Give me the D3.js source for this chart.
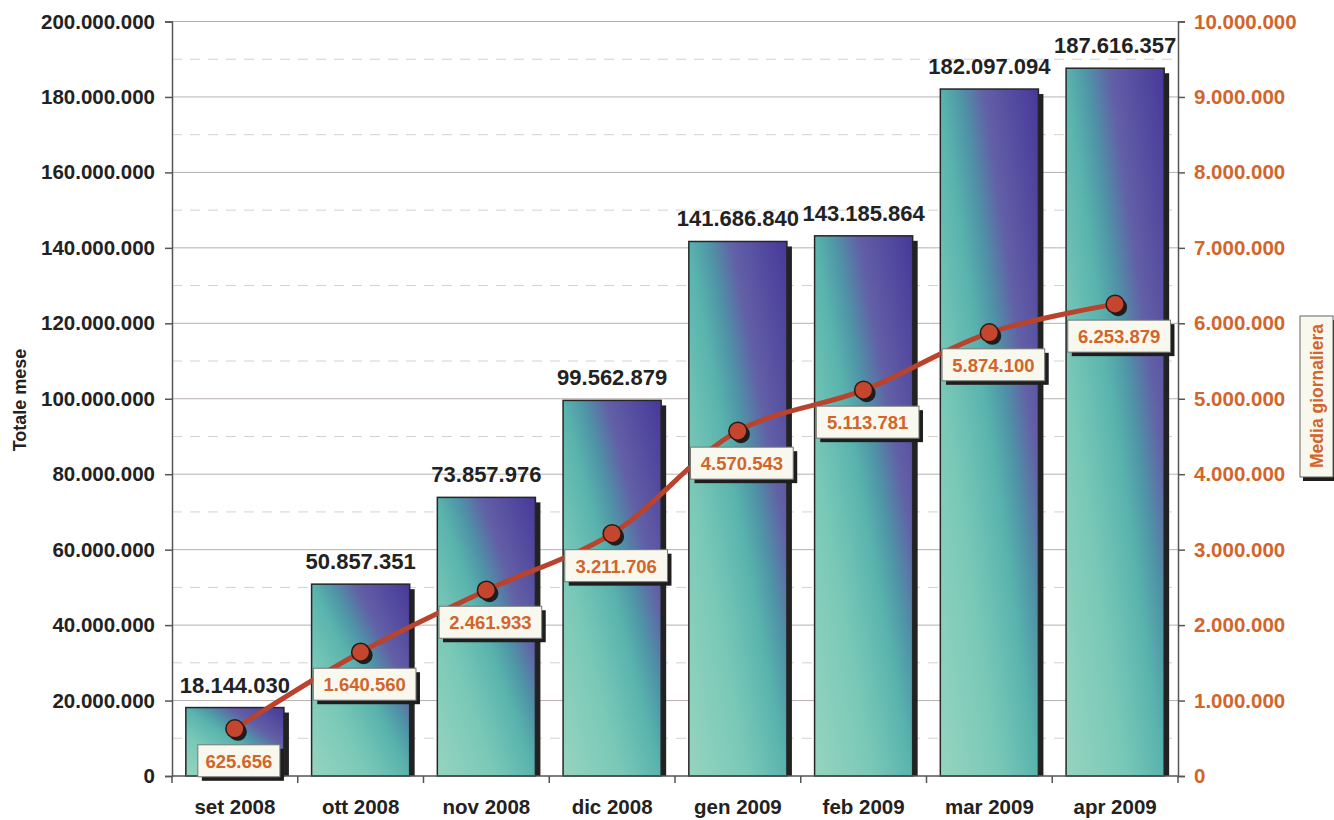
<!DOCTYPE html>
<html>
<head>
<meta charset="utf-8">
<script src="https://cdn.jsdelivr.net/npm/d3@7"></script>
<style>
  body { margin: 0; background: #fff; }
  svg { font-family: "Liberation Sans", Arial, sans-serif; font-weight: bold; }
</style>
</head>
<body>
<svg id="chart" width="1334" height="820"></svg>
<script>
// data
const months = ['set 2008', 'ott 2008', 'nov 2008', 'dic 2008', 'gen 2009', 'feb 2009', 'mar 2009', 'apr 2009'];
const totaleMese = [18144030, 50857351, 73857976, 99562879, 141686840, 143185864, 182097094, 187616357];
const mediaGiornaliera = [625656, 1640560, 2461933, 3211706, 4570543, 5113781, 5874100, 6253879];
const leftTicks = d3.range(0, 200000001, 20000000);
const rightTicks = d3.range(0, 10000001, 1000000);

const fmt = v => d3.format(',')(v).replace(/,/g, '.');
const orange = '#d2652b';

const svg = d3.select('#chart');
const plotLeft = 172, plotRight = 1178, plotTop = 21.5, plotBottom = 776;

const x = d3.scaleBand().domain(months).range([plotLeft, plotRight]).paddingInner(0.22).paddingOuter(0.11);
const yL = d3.scaleLinear().domain([0, 200000000]).range([plotBottom, plotTop]);
const yR = d3.scaleLinear().domain([0, 10000000]).range([plotBottom, plotTop]);

// diagonal gradient for bars: mint bottom-left, teal, purple top-right
const defs = svg.append('defs');
const grad = defs.append('linearGradient').attr('id', 'barGrad')
  .attr('x1', 0).attr('y1', 1).attr('x2', 1).attr('y2', 0);
[[0, '#96d4bf'], [0.3, '#79c8b7'], [0.5, '#59b3ad'], [0.6, '#4f95a7'], [0.72, '#6260a6'], [1, '#47389a']]
  .forEach(s => grad.append('stop').attr('offset', s[0]).attr('stop-color', s[1]));

// grid lines
svg.append('g').selectAll('line')
  .data(d3.range(10000000, 200000000, 20000000))
  .join('line')
  .attr('x1', plotLeft).attr('x2', plotRight)
  .attr('y1', d => yL(d)).attr('y2', d => yL(d))
  .attr('stroke', '#d4d0d0').attr('stroke-width', 1).attr('stroke-dasharray', '10,8');
svg.append('g').selectAll('line')
  .data(leftTicks.filter(d => d > 0))
  .join('line')
  .attr('x1', plotLeft).attr('x2', plotRight)
  .attr('y1', d => yL(d)).attr('y2', d => yL(d))
  .attr('stroke', '#b8b0b0').attr('stroke-width', 1);

// bars
const bars = svg.append('g');
bars.append('g').selectAll('rect').data(totaleMese).join('rect')
  .attr('x', (d, i) => x(months[i]) + 5).attr('y', d => yL(d) + 5)
  .attr('width', x.bandwidth()).attr('height', d => plotBottom - yL(d) - 5)
  .attr('fill', '#222');
bars.append('g').selectAll('rect').data(totaleMese).join('rect')
  .attr('x', (d, i) => x(months[i])).attr('y', d => yL(d))
  .attr('width', x.bandwidth()).attr('height', d => plotBottom - yL(d))
  .attr('fill', 'url(#barGrad)').attr('stroke', '#262626').attr('stroke-width', 1.5);

// bar labels
svg.append('g').selectAll('text').data(totaleMese).join('text')
  .attr('x', (d, i) => x(months[i]) + x.bandwidth() / 2)
  .attr('y', d => yL(d) - 15)
  .attr('text-anchor', 'middle').attr('font-size', 22).attr('fill', '#222')
  .text(d => fmt(d));

// axes
const axL = svg.append('g').attr('transform', `translate(${plotLeft},0)`)
  .call(d3.axisLeft(yL).tickValues(leftTicks).tickSize(7).tickPadding(10).tickFormat(fmt));
axL.select('.domain').attr('stroke', '#555').attr('stroke-width', 1.5);
axL.selectAll('.tick line').attr('stroke', '#555').attr('stroke-width', 1.5);
axL.selectAll('text').attr('font-size', 20.5).attr('font-family', '"Liberation Sans", Arial').attr('font-weight', 'bold').attr('fill', '#222');

const axR = svg.append('g').attr('transform', `translate(${plotRight},0)`)
  .call(d3.axisRight(yR).tickValues(rightTicks).tickSize(7).tickPadding(9).tickFormat(fmt));
axR.select('.domain').attr('stroke', '#555').attr('stroke-width', 1.5);
axR.selectAll('.tick line').attr('stroke', '#555').attr('stroke-width', 1.5);
axR.selectAll('text').attr('font-size', 20.5).attr('font-family', '"Liberation Sans", Arial').attr('font-weight', 'bold').attr('fill', orange);

// x axis
svg.append('line').attr('x1', plotLeft).attr('x2', plotRight).attr('y1', plotBottom).attr('y2', plotBottom)
  .attr('stroke', '#555').attr('stroke-width', 1.5);
svg.append('g').selectAll('line').data(d3.range(months.length + 1)).join('line')
  .attr('x1', i => plotLeft + i * x.step())
  .attr('x2', i => plotLeft + i * x.step())
  .attr('y1', plotBottom).attr('y2', plotBottom + 7)
  .attr('stroke', '#555').attr('stroke-width', 1.5);
svg.append('g').selectAll('text').data(months).join('text')
  .attr('x', d => x(d) + x.bandwidth() / 2).attr('y', 814)
  .attr('text-anchor', 'middle').attr('font-size', 20.5).attr('fill', '#222')
  .text(d => d);

// line series
const px = (d, i) => x(months[i]) + x.bandwidth() / 2;
const line = d3.line().x(px).y(d => yR(d)).curve(d3.curveCatmullRom.alpha(0.5));
svg.append('path').datum(mediaGiornaliera)
  .attr('d', line).attr('fill', 'none').attr('stroke', '#b9432c').attr('stroke-width', 5);

const pts = svg.append('g');
pts.append('g').selectAll('circle').data(mediaGiornaliera).join('circle')
  .attr('cx', (d, i) => px(d, i) + 3).attr('cy', d => yR(d) + 3).attr('r', 9)
  .attr('fill', '#1e1e1e');
pts.append('g').selectAll('circle').data(mediaGiornaliera).join('circle')
  .attr('cx', px).attr('cy', d => yR(d)).attr('r', 9)
  .attr('fill', '#c4462e').attr('stroke', '#2a1a16').attr('stroke-width', 1.5);

// value boxes for the line
const boxes = svg.append('g').selectAll('g').data(mediaGiornaliera).join('g')
  .attr('transform', (d, i) => `translate(${px(d, i) + 4},${yR(d) + 16})`);
boxes.each(function (d) {
  const g = d3.select(this);
  const label = fmt(d);
  const w = label.length * 10.3 + 10, h = 32;
  g.append('rect').attr('x', -w / 2 + 4).attr('y', 4).attr('width', w).attr('height', h).attr('fill', '#1e1e1e');
  g.append('rect').attr('x', -w / 2).attr('y', 0).attr('width', w).attr('height', h)
    .attr('fill', '#f8f8ee').attr('stroke', '#777').attr('stroke-width', 1);
  g.append('text').attr('x', 0).attr('y', 23).attr('text-anchor', 'middle')
    .attr('font-size', 18.5).attr('fill', orange).text(label);
});

// axis titles
svg.append('text').attr('transform', 'translate(26,400) rotate(-90)')
  .attr('text-anchor', 'middle').attr('font-size', 18).attr('fill', '#222').text('Totale mese');

const tBox = svg.append('g').attr('transform', 'translate(1316,396)');
tBox.append('rect').attr('x', -16 + 3).attr('y', -80 + 4).attr('width', 33).attr('height', 161).attr('fill', '#1e1e1e');
tBox.append('rect').attr('x', -16).attr('y', -80).attr('width', 33).attr('height', 161)
  .attr('fill', '#f8f8ee').attr('stroke', '#666').attr('stroke-width', 1);
tBox.append('text').attr('transform', 'translate(6.5,0) rotate(-90)')
  .attr('text-anchor', 'middle').attr('font-size', 17.5).attr('fill', orange).text('Media giornaliera');
</script>
</body>
</html>
